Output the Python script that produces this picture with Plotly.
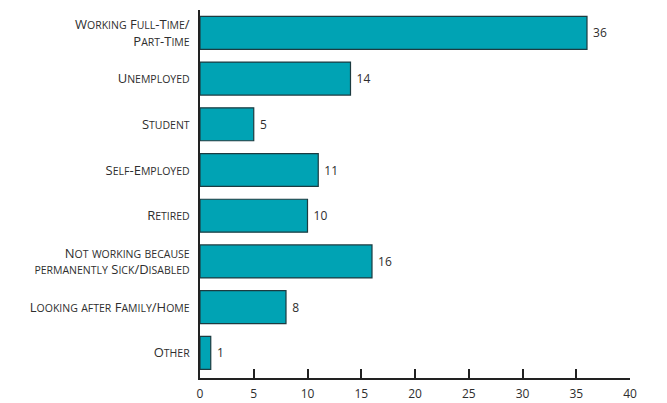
import plotly.graph_objects as go

categories = [
    "Working Full-Time/\nPart-Time",
    "Unemployed",
    "Student",
    "Self-Employed",
    "Retired",
    "Not working because\npermanently Sick/Disabled",
    "Looking after Family/Home",
    "Other",
]
values = [36, 14, 5, 11, 10, 16, 8, 1]
x_ticks = [0, 5, 10, 15, 20, 25, 30, 35, 40]

BAR = "#00A3B4"
TXT = "#2e2e2e"


def small_caps(s, small=10.5):
    out = []
    for line in s.split("\n"):
        parts = []
        buf = ""
        mode = None
        for ch in line:
            m = "low" if ch.islower() else "up"
            if m != mode and buf:
                parts.append((mode, buf))
                buf = ""
            mode = m
            buf += ch
        if buf:
            parts.append((mode, buf))
        txt = ""
        for m, b in parts:
            if m == "low":
                txt += '<span style="font-size:%spx">%s</span>' % (small, b.upper())
            else:
                txt += b
        out.append(txt)
    return "<br>".join(out)


ticktext = [small_caps(c) for c in categories]

fig = go.Figure(
    go.Bar(
        x=values,
        y=categories,
        orientation="h",
        marker=dict(color=BAR, line=dict(color="#1c3b40", width=1.2)),
        width=0.72,
        text=["\u00a0" + str(v) for v in values],
        textposition="outside",
        textfont=dict(family="Open Sans, sans-serif", size=12, color=TXT),
        cliponaxis=False,
        hoverinfo="skip",
    )
)

fig.update_layout(
    width=667,
    height=403,
    margin=dict(l=200, r=37, t=10, b=25),
    plot_bgcolor="white",
    paper_bgcolor="white",
    showlegend=False,
    font=dict(family="Open Sans, sans-serif", color=TXT),
)
fig.update_xaxes(
    range=[0, 40],
    tickvals=x_ticks,
    ticks="inside",
    ticklen=9,
    tickwidth=1.5,
    tickcolor="#222",
    showline=True,
    linecolor="#222",
    linewidth=1.5,
    showgrid=False,
    zeroline=False,
    automargin=False,
    ticklabelstandoff=4,
    tickfont=dict(family="Open Sans, sans-serif", size=12, color=TXT),
)
fig.update_yaxes(
    type="category",
    categoryorder="array",
    categoryarray=categories,
    tickvals=categories,
    ticktext=ticktext,
    range=[7.55, -0.5],
    showline=True,
    linecolor="#222",
    linewidth=1.5,
    ticks="",
    showgrid=False,
    automargin=False,
    ticklabelstandoff=6,
    tickfont=dict(family="Open Sans, sans-serif", size=13, color=TXT, weight=500),
)

fig.write_html("out.html")
